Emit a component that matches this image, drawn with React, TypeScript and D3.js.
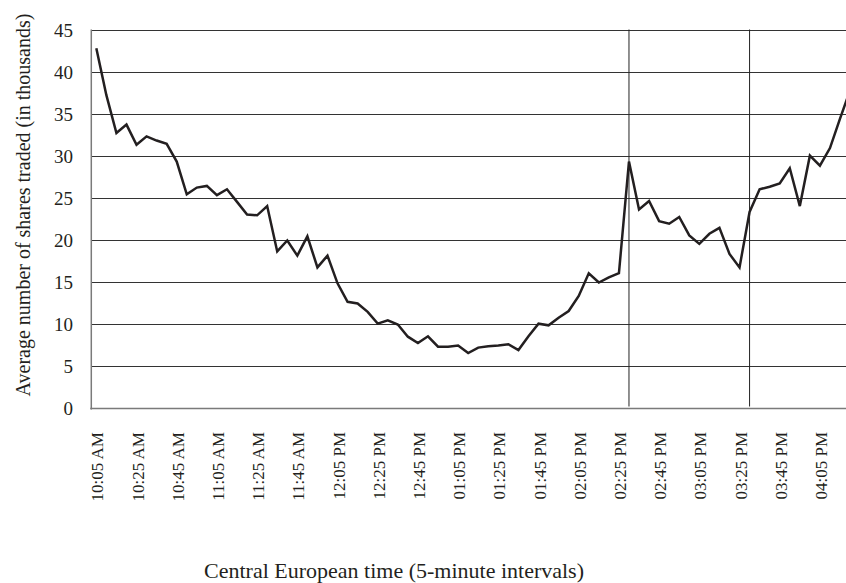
import React from "react";
import * as d3 from "d3";

const W = 846;
const H = 583;

// Average number of shares traded (thousands), 5-minute intervals from 10:05
const values: number[] = [
  42.9, 37.3, 32.8, 33.8, 31.4, 32.4, 31.9, 31.5, 29.4, 25.5,
  26.3, 26.5, 25.4, 26.1, 24.6, 23.1, 23.0, 24.1, 18.7, 20.0,
  18.2, 20.5, 16.8, 18.2, 14.9, 12.7, 12.5, 11.5, 10.1, 10.5,
  10.0, 8.55, 7.8, 8.6, 7.36, 7.36, 7.5, 6.6, 7.25, 7.4,
  7.5, 7.65, 6.96, 8.6, 10.1, 9.9, 10.8, 11.6, 13.4, 16.1,
  15.0, 15.6, 16.1, 29.4, 23.7, 24.7, 22.3, 22.0, 22.8, 20.6,
  19.6, 20.8, 21.5, 18.4, 16.8, 23.4, 26.1, 26.4, 26.8, 28.6,
  24.1, 30.1, 28.9, 31.0, 34.5, 37.9,
];

function fmtTime(minutes: number): string {
  const h24 = Math.floor(minutes / 60);
  const m = minutes % 60;
  const ampm = h24 >= 12 ? "PM" : "AM";
  let h = h24 % 12;
  if (h === 0) h = 12;
  return `${String(h).padStart(2, "0")}:${String(m).padStart(2, "0")} ${ampm}`;
}

const startMinutes = 10 * 60 + 5;
const categories: string[] = values.map((_, i) => fmtTime(startMinutes + i * 5));
const labelEvery = 4;
const markerTimes: string[] = ["02:30 PM", "03:30 PM"];
const yTicks: number[] = [0, 5, 10, 15, 20, 25, 30, 35, 40, 45];

const yTitle = "Average number of shares traded (in thousands)";
const xTitle = "Central European time (5-minute intervals)";

const FONT = "'Liberation Serif', 'DejaVu Serif', serif";
const INK = "#231f20";

export default function App() {
  const left = 91.3;
  const band = 10.05;
  const top = 30.5;
  const bottom = 408.5;

  const x = d3
    .scaleBand<string>()
    .domain(categories)
    .range([left, left + band * categories.length])
    .padding(0);
  const cx = (c: string) => (x(c) as number) + x.bandwidth() / 2;
  const y = d3.scaleLinear().domain([0, 45]).range([bottom, top]);

  const line = d3
    .line<number>()
    .x((_, i) => cx(categories[i]))
    .y((d) => y(d));

  return (
    <svg
      width={W}
      height={H}
      style={{ position: "absolute", left: 0, top: 0, background: "#fff" }}
    >
      {/* gridlines */}
      {yTicks
        .filter((t) => t > 0)
        .map((t) => (
          <line
            key={t}
            x1={left}
            x2={W + 20}
            y1={y(t)}
            y2={y(t)}
            stroke="#333"
            strokeWidth={1}
          />
        ))}
      {/* marker vertical lines */}
      {markerTimes.map((m) => (
        <line
          key={m}
          x1={cx(m)}
          x2={cx(m)}
          y1={top - 1}
          y2={bottom - 2}
          stroke="#222"
          strokeWidth={1}
        />
      ))}
      {/* axes */}
      <line x1={left} x2={left} y1={top - 1} y2={bottom + 1} stroke="#7a7a7a" strokeWidth={1.5} />
      <line x1={left - 1} x2={W + 20} y1={bottom} y2={bottom} stroke="#7a7a7a" strokeWidth={1.5} />
      {/* data line */}
      <path
        d={line(values) as string}
        fill="none"
        stroke={INK}
        strokeWidth={2.5}
        strokeLinejoin="miter"
      />
      {/* y tick labels */}
      {yTicks.map((t) => (
        <text
          key={t}
          x={73}
          y={y(t)}
          dy="0.35em"
          textAnchor="end"
          fontFamily={FONT}
          fontSize={19}
          fill={INK}
        >
          {t}
        </text>
      ))}
      {/* x tick labels */}
      {categories.map((c, i) =>
        i % labelEvery === 0 ? (
          <text
            key={c}
            transform={`translate(${cx(c)},${432}) rotate(-90)`}
            dy="0.42em"
            textAnchor="end"
            fontFamily={FONT}
            fontSize={17}
            fill={INK}
          >
            {c}
          </text>
        ) : null
      )}
      {/* axis titles */}
      <text
        transform={`translate(30,${205}) rotate(-90)`}
        textAnchor="middle"
        fontFamily={FONT}
        fontSize={20}
        fill={INK}
      >
        {yTitle}
      </text>
      <text
        x={394}
        y={578}
        textAnchor="middle"
        fontFamily={FONT}
        fontSize={22}
        fill={INK}
      >
        {xTitle}
      </text>
    </svg>
  );
}
